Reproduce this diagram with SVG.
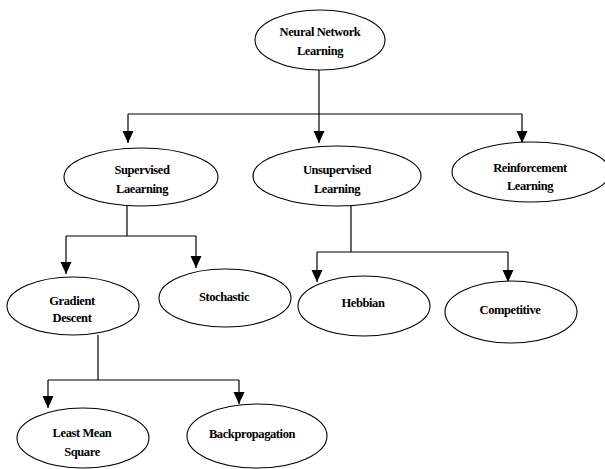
<svg xmlns="http://www.w3.org/2000/svg" width="605" height="469" viewBox="0 0 605 469">
<style>
.n ellipse{fill:#fff;stroke:#000;stroke-width:1.1}
.n text{font-family:"Liberation Serif","Times New Roman",serif;font-weight:bold;font-size:12.5px;text-anchor:middle;fill:#000;letter-spacing:-0.4px}
.c path{fill:none;stroke:#000;stroke-width:1.2}
</style>
<defs>
<marker id="ah" markerUnits="userSpaceOnUse" markerWidth="12" markerHeight="12" refX="12" refY="5.5" orient="auto">
<path d="M0,0 L12,5.5 L0,11 Z" fill="#000"/>
</marker>
</defs>
<g class="c" id="connectors">
<path d="M319,70 V114"/>
<path d="M128,114 H522"/>
<path d="M128,114 V143" marker-end="url(#ah)"/>
<path d="M319,114 V143" marker-end="url(#ah)"/>
<path d="M522,114 V143" marker-end="url(#ah)"/>
<path d="M127,206 V236"/>
<path d="M66,236 H196"/>
<path d="M66,236 V274" marker-end="url(#ah)"/>
<path d="M196,236 V268" marker-end="url(#ah)"/>
<path d="M351,206 V252"/>
<path d="M317,252 H508"/>
<path d="M317,252 V282" marker-end="url(#ah)"/>
<path d="M508,252 V282" marker-end="url(#ah)"/>
<path d="M98,335 V380"/>
<path d="M48,380 H239"/>
<path d="M48,380 V408" marker-end="url(#ah)"/>
<path d="M239,380 V404" marker-end="url(#ah)"/>
</g>
<g class="n" id="nnl"><ellipse cx="320" cy="40" rx="65" ry="30"/><text x="320" y="36">Neural Network</text><text x="320" y="55">Learning</text></g>
<g class="n" id="supervised"><ellipse cx="141" cy="177" rx="77" ry="29"/><text x="142" y="174">Supervised</text><text x="142" y="193">Laearning</text></g>
<g class="n" id="unsupervised"><ellipse cx="337" cy="176" rx="84" ry="30"/><text x="337" y="174">Unsupervised</text><text x="337" y="193">Learning</text></g>
<g class="n" id="reinforcement"><ellipse cx="531" cy="172" rx="79" ry="30"/><text x="530" y="172">Reinforcement</text><text x="530" y="190">Learning</text></g>
<g class="n" id="gradient"><ellipse cx="73" cy="306" rx="66" ry="29"/><text x="72" y="305">Gradient</text><text x="72" y="322">Descent</text></g>
<g class="n" id="stochastic"><ellipse cx="225" cy="298" rx="66" ry="29"/><text x="224" y="301">Stochastic</text></g>
<g class="n" id="hebbian"><ellipse cx="364" cy="306" rx="66" ry="30"/><text x="363" y="307">Hebbian</text></g>
<g class="n" id="competitive"><ellipse cx="511" cy="312" rx="66" ry="31"/><text x="510" y="314">Competitive</text></g>
<g class="n" id="lms"><ellipse cx="83" cy="438" rx="66" ry="30"/><text x="82" y="437">Least Mean</text><text x="82" y="456">Square</text></g>
<g class="n" id="backprop"><ellipse cx="257" cy="436" rx="70" ry="32"/><text x="252" y="438">Backpropagation</text></g>
</svg>
